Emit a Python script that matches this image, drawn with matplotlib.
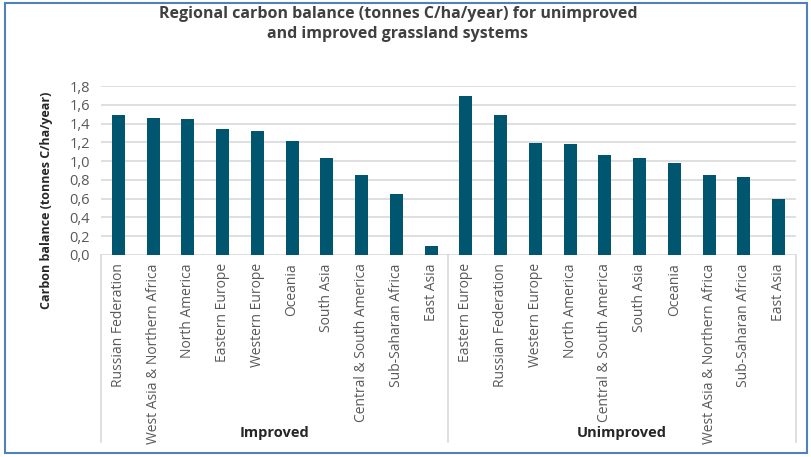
import matplotlib
import matplotlib.pyplot as plt
from matplotlib.patches import Rectangle
import matplotlib.transforms as mtransforms

matplotlib.use("Agg")
plt.rcParams['font.family'] = ['Open Sans', 'DejaVu Sans']

improved_regions = ["Russian Federation", "West Asia & Northern Africa", "North America",
                    "Eastern Europe", "Western Europe", "Oceania", "South Asia",
                    "Central & South America", "Sub-Saharan Africa", "East Asia"]
improved_values = [1.49, 1.46, 1.45, 1.34, 1.32, 1.21, 1.03, 0.85, 0.65, 0.10]

unimproved_regions = ["Eastern Europe", "Russian Federation", "Western Europe", "North America",
                      "Central & South America", "South Asia", "Oceania",
                      "West Asia & Northern Africa", "Sub-Saharan Africa", "East Asia"]
unimproved_values = [1.69, 1.49, 1.19, 1.18, 1.06, 1.03, 0.98, 0.85, 0.83, 0.60]

groups = ["Improved", "Unimproved"]
yticks = [0.0, 0.2, 0.4, 0.6, 0.8, 1.0, 1.2, 1.4, 1.6, 1.8]

bar_color = "#00566e"
grid_color = "#d9d9d9"
text_color = "#595959"

W, H = 812, 457
fig = plt.figure(figsize=(W / 100, H / 100), dpi=100)
ax = fig.add_axes([101 / W, 1 - 255 / H, (796 - 101) / W, (255 - 86) / H])

labels = improved_regions + unimproved_regions
values = improved_values + unimproved_values
x = list(range(len(values)))
ax.bar(x, values, width=0.38, color=bar_color, zorder=3)

ax.set_xlim(-0.5, len(values) - 0.5)
ax.set_ylim(0, 1.8)
ax.set_yticks(yticks)
ax.set_yticklabels([f"{v:.1f}".replace(".", ",") for v in yticks],
                   fontsize=10.5, color=text_color)
ax.yaxis.grid(True, color=grid_color, linewidth=1.2, zorder=0)
ax.tick_params(axis="y", length=0, pad=8)
ax.set_xticks(x)
ax.set_xticklabels(labels, rotation=90, fontsize=10, color=text_color)
ax.tick_params(axis="x", length=0, pad=6)
for s in ax.spines.values():
    s.set_visible(False)

ax.set_ylabel("Carbon balance (tonnes C/ha/year)", fontsize=9, fontweight="bold",
              color="#262626", labelpad=10)
ax.yaxis.set_label_coords(-0.069, (255 - 200) / (255 - 86))

# group separators and labels
trans = mtransforms.blended_transform_factory(ax.transData, ax.transAxes)
depth = -(442 - 255) / (255 - 86)
for xs in [-0.5, 9.5, 19.5]:
    ax.plot([xs, xs], [0, depth], transform=trans, color=grid_color, lw=1.2, clip_on=False)
for i, g in enumerate(groups):
    ax.text(4.5 + 10 * i, -(433 - 255) / (255 - 86), g, transform=trans, ha="center",
            va="center", fontsize=10.5, fontweight="bold", color="#262626")

fig.text(398 / W, 1 - 24 / H,
         "Regional carbon balance (tonnes C/ha/year) for unimproved\nand improved grassland systems",
         ha="center", va="center", fontsize=11.5, fontweight="bold", color="#404040",
         linespacing=1.3)

fig.patches.append(Rectangle((5 / W, 1 - 453 / H), 802 / W, 450 / H, transform=fig.transFigure,
                             fill=False, edgecolor="#4f81bd", linewidth=1.5))

fig.savefig("out.png", dpi=100)
